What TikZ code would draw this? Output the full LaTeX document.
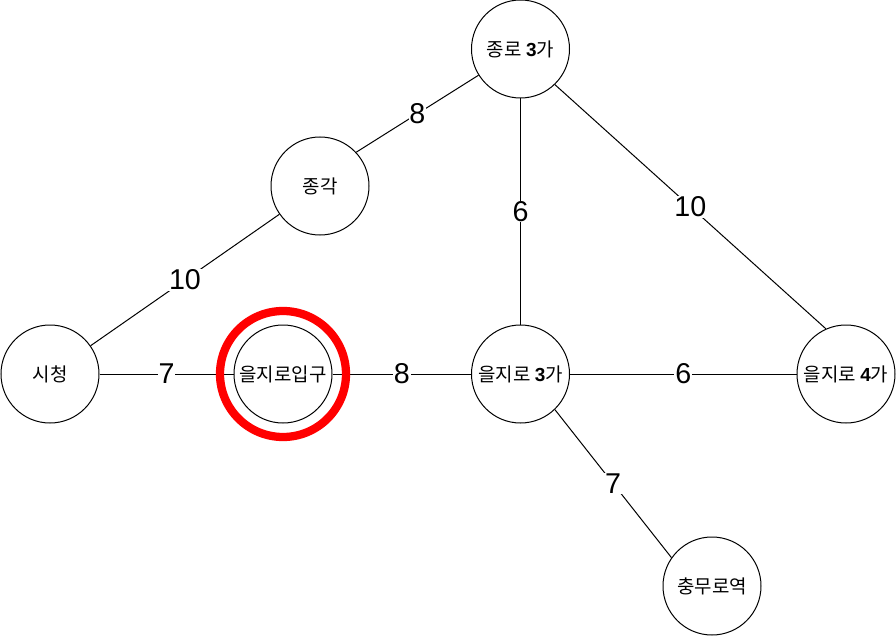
\documentclass[tikz,border=0pt]{standalone}
\usepackage{fontspec}
\setmainfont{Liberation Sans}
\newfontfamily\krfont{Noto Sans CJK KR}
\newcommand\bdig[1]{{\normalfont\bfseries #1}}
\begin{document}
\begin{tikzpicture}[x=0.75pt,y=-0.75pt,
  stn/.style={circle, draw, line width=0.75pt, minimum size=73.5pt, inner sep=0pt,
              font=\krfont\fontsize{14.2}{17}\selectfont, fill=white},
  wlabel/.style={fill=white, inner sep=0.6pt, font=\fontsize{21.5}{24}\selectfont},
  edge/.style={line width=0.75pt},
  ringstyle/.style={circle, draw=red, line width=6.2pt, minimum size=94.5pt, inner sep=0pt}]
\useasboundingbox (0,0) rectangle (896,638);

\node[stn] (jr) at (520.5,49)  {종로 \bdig{3}가};
\node[stn] (jg) at (320,186) {종각};
\node[stn] (sc) at (50,374)  {시청};
\node[stn] (ej) at (283,374) {을지로입구};
\node[stn] (e3) at (520.5,374) {을지로 \bdig{3}가};
\node[stn] (e4) at (846,374) {을지로 \bdig{4}가};
\node[stn] (cm) at (712,586) {충무로역};

\draw[edge] (jg.43) -- node[wlabel] {8} (jr.212);
\draw[edge] (sc) -- node[wlabel] {10} (jg);
\draw[edge] (jr) -- node[wlabel] {6} (e3);
\draw[edge] (jr.-46) -- node[wlabel] {10} (e4.114);
\draw[edge] (sc) -- node[wlabel] {7} (ej);
\draw[edge] (ej) -- node[wlabel] {8} (e3);
\draw[edge] (e3) -- node[wlabel] {6} (e4);
\draw[edge] (e3.-46) -- node[wlabel] {7} (cm.145);

\node[ringstyle] (ring) at (ej) {};
\end{tikzpicture}
\end{document}
